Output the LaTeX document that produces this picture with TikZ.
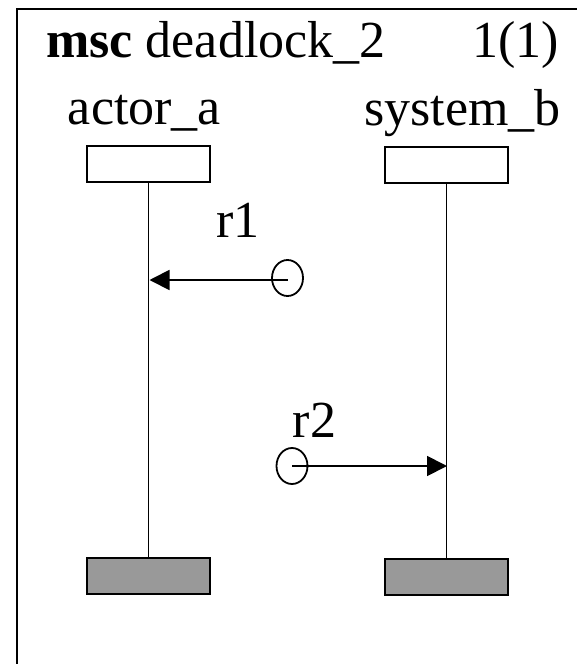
\documentclass[tikz,border=0pt]{standalone}
\usepackage{fontspec}
\setmainfont{Liberation Serif}
\usetikzlibrary{
    shapes.geometric,
    arrows.meta,
    positioning
}

\begin{document}
\begin{tikzpicture}[x=1pt, y=-1pt,
    label text/.style={font=\fontsize{52}{56}\selectfont, inner sep=0pt},
    head box/.style={draw, line width=2pt, minimum width=123pt, minimum height=36pt, inner sep=0pt},
    end box/.style={head box, fill=gray!80!white},
    lifeline/.style={line width=1.8pt},
    msg src/.style={draw, ellipse, line width=1.8pt, minimum width=31pt, minimum height=36pt, inner sep=0pt},
    msg/.style={-{Triangle[length=20pt, width=20pt]}, line width=1.8pt}
]
    \useasboundingbox (0,0) rectangle (576,664);

    % Frame and heading
    \draw[line width=2.2pt] (580,9) -- (17,9) -- (17,668);
    \node[label text, anchor=base west] (title) at (46,57) {\textbf{msc} deadlock\_2};
    \node[label text, anchor=base west] (page) at (472,57) {1(1)};

    % Instance names
    \node[label text, anchor=base] (actorname) at (144.5,124) {actor\_a};
    \node[label text, anchor=base] (systemname) at (462.5,125) {system\_b};

    % Instance heads and ends
    \node[head box] (actorhead) at (148.5,164) {};
    \node[head box] (systemhead) at (446.5,164.5) {};
    \node[end box] (actorend) at (148.5,575.5) {};
    \node[end box] (systemend) at (446.5,577) {};

    % Lifelines
    \draw[lifeline] (actorhead.south) -- (actorend.north);
    \draw[lifeline] (systemhead.south) -- (systemend.north);

    % Message r1: found message into actor_a
    \node[msg src] (r1src) at (287.5,278) {};
    \coordinate (r1in) at (149.5,280);
    \draw[msg] (r1src.center |- r1in) -- (r1in);
    \node[label text, anchor=base] (r1) at (238,237) {r1};

    % Message r2: found message into system_b
    \node[msg src] (r2src) at (292,466) {};
    \coordinate (r2in) at (447,466);
    \draw[msg] (r2src.center) -- (r2in);
    \node[label text, anchor=base] (r2) at (314.5,437) {r2};
\end{tikzpicture}
\end{document}
